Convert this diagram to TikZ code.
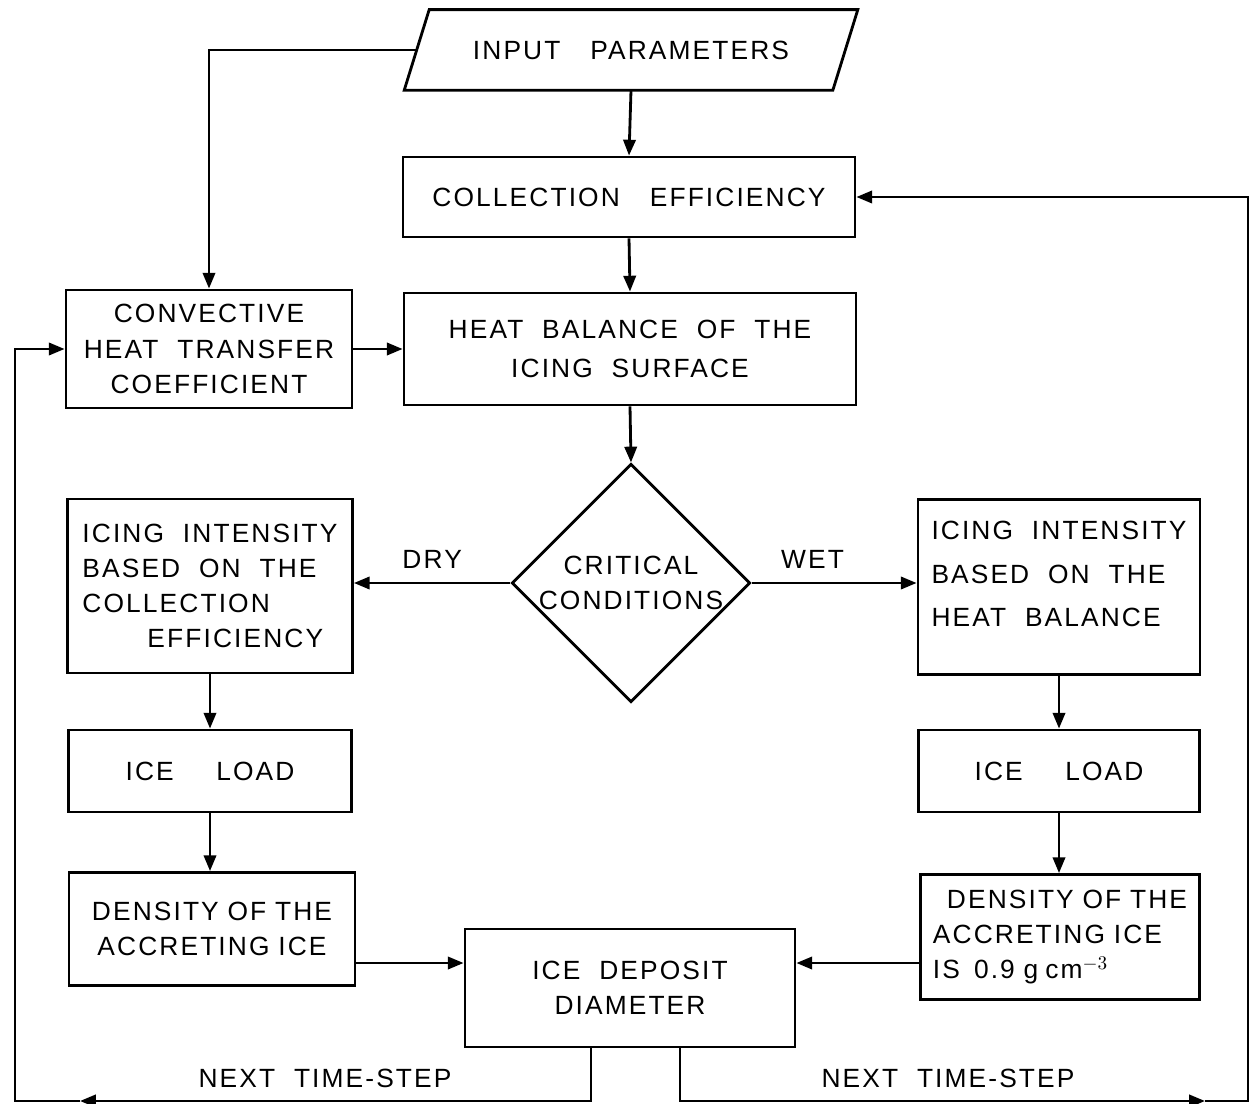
\documentclass[tikz,border=0pt]{standalone}
\usepackage{fontspec}
\setmainfont{Liberation Sans}[LetterSpace=8, WordSpace=2]
\usetikzlibrary{shapes.geometric, arrows.meta, positioning}

\begin{document}
\begin{tikzpicture}[
    x=0.02cm, y=-0.02cm,
    every node/.style={font=\fontsize{15}{20}\selectfont},
    block/.style={rectangle, draw, line width=1.6pt, align=center, inner sep=2pt},
    slantbox/.style={rectangle, align=center, inner sep=2pt},
    decision/.style={diamond, draw, line width=1.6pt, align=center, inner sep=0pt},
    arrow/.style={-{Triangle[length=9pt, width=7pt]}, line width=1.6pt},
    edge/.style={line width=1.6pt, line join=miter},
    lbl/.style={font=\fontsize{15}{20}\selectfont},
]
\useasboundingbox (0,0) rectangle (1254,1104);

% Top: input and collection
\node[slantbox, minimum width=9.06cm, minimum height=1.6cm] (inp) at (631,50) {INPUT\hspace{0.6cm}PARAMETERS};
\draw[edge] ([xshift=0.5cm]inp.north west) -- (inp.north east) -- ([xshift=-0.5cm]inp.south east) -- (inp.south west) -- cycle;
\node[block, minimum width=9.04cm, minimum height=1.6cm] (coll) at (629,197) {COLLECTION\hspace{0.6cm}EFFICIENCY};
\node[block, minimum width=5.72cm, minimum height=2.36cm] (conv) at (209,349) {CONVECTIVE\\HEAT TRANSFER\\COEFFICIENT};
\node[block, minimum width=9.04cm, minimum height=2.24cm, font=\fontsize{15}{22}\selectfont] (heat) at (630,349) {HEAT BALANCE OF THE\\ICING SURFACE};

% Decision
\node[decision, minimum width=4.74cm, minimum height=4.7cm] (crit) at (631,583) {CRITICAL\\CONDITIONS};

% Dry branch
\node[block, align=left, minimum width=5.7cm, minimum height=3.48cm] (intL) at (210,586) {ICING INTENSITY\\BASED ON THE\\COLLECTION\\\hspace*{1.3cm}EFFICIENCY};
\node[block, minimum width=5.66cm, minimum height=1.64cm] (loadL) at (210,771) {ICE\hspace{0.85cm}LOAD};
\node[block, minimum width=5.72cm, minimum height=2.26cm] (denL) at (212,929) {DENSITY\hspace{5pt}OF\hspace{5pt}THE\\ACCRETING\hspace{5pt}ICE};

% Wet branch
\node[block, align=left, minimum width=5.64cm, minimum height=3.5cm, font=\fontsize{15}{25}\selectfont] (intR) at (1059,587) {ICING INTENSITY\\BASED ON THE\\HEAT BALANCE\\[-10pt]\mbox{}};
\node[block, minimum width=5.62cm, minimum height=1.64cm] (loadR) at (1059,771) {ICE\hspace{0.85cm}LOAD};
\node[block, align=left, minimum width=5.58cm, minimum height=2.5cm] (denR) at (1060,937) {\hspace*{0.28cm}DENSITY\hspace{5pt}OF\hspace{5pt}THE\\ACCRETING\hspace{5pt}ICE\\IS\hspace{8pt}0.9\hspace{5pt}g\hspace{4pt}cm$^{-3}$};

% Result
\node[block, minimum width=6.6cm, minimum height=2.36cm] (dep) at (630,988) {ICE DEPOSIT\\DIAMETER};

% Main flow
\draw[arrow] (inp.south) -- (coll.north);
\draw[arrow] ([xshift=0.25cm]inp.west) -| (conv.north);
\draw[arrow] (coll.south) -- (heat.north);
\draw[arrow] (conv.east) -- (heat.west |- conv.east);
\draw[arrow] (heat.south) -- (crit.north);
\draw[arrow] (crit.west) -- node[lbl, above, yshift=4pt] {DRY} (intL.east |- crit.west);
\draw[arrow] (crit.east) -- node[lbl, above, yshift=4pt, pos=0.37] {WET} (intR.west |- crit.east);
\draw[arrow] (intL.south) -- (loadL.north);
\draw[arrow] (loadL.south) -- (loadL.south |- denL.north);
\draw[arrow] (intR.south) -- (loadR.north);
\draw[arrow] (loadR.south) -- (loadR.south |- denR.north);
\coordinate (dl) at ([yshift=0.5cm]dep.west);
\coordinate (dr) at ([yshift=0.5cm]dep.east);
\draw[arrow] (denL.east |- dl) -- (dl);
\draw[arrow] (denR.west |- dr) -- (dr);

% Feedback: next time-step
\coordinate (nl) at (80,1101);
\coordinate (lc) at (15,1101);
\coordinate (nr) at (1205,1101);
\coordinate (rc) at (1248,1101);
\draw[arrow] ([xshift=-0.78cm]dep.south) |- (nl);
\draw[arrow] (nl) -- (lc) |- (conv.west);
\draw[arrow] ([xshift=1.0cm]dep.south) |- (nr);
\draw[arrow] (nr) -- (rc) |- (coll.east);
\node[lbl] (stepL) at (325,1078) {NEXT TIME-STEP};
\node[lbl] (stepR) at (948,1078) {NEXT TIME-STEP};

\end{tikzpicture}
\end{document}
